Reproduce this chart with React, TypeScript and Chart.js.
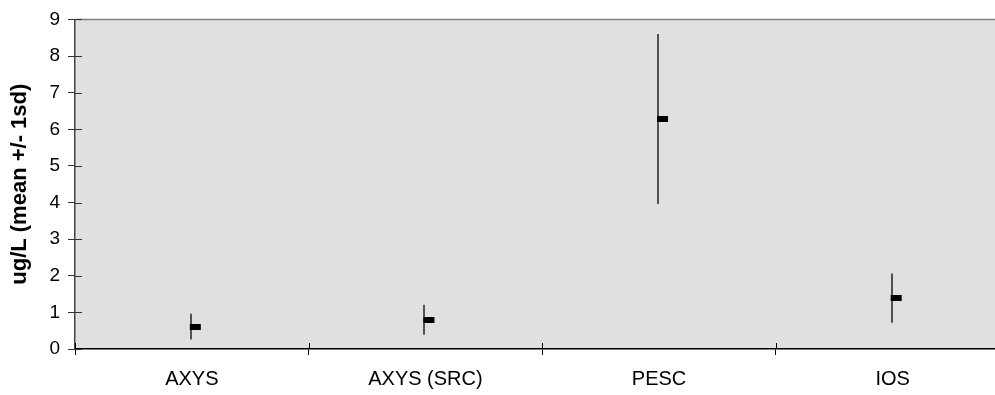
import React, { useEffect, useRef } from "react";
import { Chart, registerables } from "chart.js";

Chart.register(...registerables);

const categories = ["AXYS", "AXYS (SRC)", "PESC", "IOS"];
const means = [0.61, 0.8, 6.28, 1.39];
const sds = [0.35, 0.41, 2.32, 0.67];
const yTicks = [0, 1, 2, 3, 4, 5, 6, 7, 8, 9];
const yTitle = "ug/L (mean +/- 1sd)";

const FONT = "'Liberation Sans', Arial, Helvetica, sans-serif";

function makeMarker(): HTMLCanvasElement {
  const c = document.createElement("canvas");
  c.width = 22;
  c.height = 6;
  const ctx = c.getContext("2d")!;
  ctx.fillStyle = "#000";
  ctx.fillRect(9, 0, 11, 6);
  return c;
}

const bgPlugin = {
  id: "bgPlugin",
  beforeDraw(chart: any) {
    const { ctx, chartArea } = chart;
    ctx.save();
    ctx.fillStyle = "#e0e0e0";
    ctx.fillRect(chartArea.left, chartArea.top, chartArea.right - chartArea.left, chartArea.bottom - chartArea.top);
    ctx.restore();
  },
  afterDraw(chart: any) {
    const { ctx, chartArea, scales } = chart;
    ctx.save();
    ctx.strokeStyle = "#808080";
    ctx.lineWidth = 1.5;
    ctx.beginPath();
    ctx.moveTo(chartArea.left, chartArea.top);
    ctx.lineTo(chartArea.right, chartArea.top);
    ctx.stroke();
    ctx.strokeStyle = "#333";
    ctx.lineWidth = 1;
    const y = scales.y;
    y.ticks.forEach((_t: any, i: number) => {
      const py = Math.round(y.getPixelForTick(i)) + 0.5;
      ctx.beginPath();
      ctx.moveTo(chartArea.left, py);
      ctx.lineTo(chartArea.left + 7, py);
      ctx.stroke();
    });
    const x = scales.x;
    ctx.strokeStyle = "#000";
    for (let i = 0; i <= categories.length; i++) {
      const px = Math.round(x.getPixelForValue(i - 0.5)) + 0.5;
      ctx.beginPath();
      ctx.moveTo(px, chartArea.bottom);
      ctx.lineTo(px, chartArea.bottom - 6);
      ctx.stroke();
    }
    ctx.restore();
  },
};

const errorBarPlugin = {
  id: "errorBarPlugin",
  beforeDatasetsDraw(chart: any) {
    const { ctx, scales } = chart;
    const meta = chart.getDatasetMeta(0);
    ctx.save();
    ctx.strokeStyle = "#222";
    ctx.lineWidth = 1.5;
    meta.data.forEach((pt: any, i: number) => {
      const top = scales.y.getPixelForValue(means[i] + sds[i]);
      const bot = scales.y.getPixelForValue(means[i] - sds[i]);
      const px = Math.round(pt.x) - 1;
      ctx.beginPath();
      ctx.moveTo(px, top);
      ctx.lineTo(px, bot);
      ctx.stroke();
    });
    ctx.restore();
  },
};

export default function App() {
  const ref = useRef<HTMLCanvasElement>(null);

  useEffect(() => {
    if (!ref.current) return;
    const marker = makeMarker();
    const chart = new Chart(ref.current, {
      type: "line",
      data: {
        labels: categories,
        datasets: [
          {
            data: means,
            showLine: false,
            pointStyle: marker as any,
            pointRadius: 5,
            borderColor: "#000",
            backgroundColor: "#000",
          },
        ],
      },
      options: {
        responsive: false,
        animation: false,
        events: [],
        layout: { padding: { left: 0, top: 19, right: 20.5, bottom: 0 } },
        plugins: {
          legend: { display: false },
          tooltip: { enabled: false },
        },
        scales: {
          x: {
            type: "category",
            offset: true,
            grid: {
              offset: true,
              drawOnChartArea: false,
              drawTicks: true,
              tickLength: 6,
              color: "#000",
            },
            border: { color: "#000", width: 1.5 },
            ticks: {
              color: "#000",
              font: { family: FONT, size: 20 },
              padding: 12,
              maxRotation: 0,
              autoSkip: false,
            },
            afterFit: (s: any) => {
              s.height = 46;
            },
          },
          y: {
            min: 0,
            max: 9,
            afterBuildTicks: (s: any) => {
              s.ticks = yTicks.map((v) => ({ value: v }));
            },
            grid: {
              drawOnChartArea: false,
              drawTicks: true,
              tickLength: 7,
              color: "#333",
            },
            border: { color: "#444", width: 1.5 },
            ticks: {
              color: "#000",
              font: { family: FONT, size: 19 },
              padding: 8,
            },
            title: {
              display: true,
              text: yTitle,
              color: "#000",
              font: { family: FONT, size: 22, weight: "bold" },
              padding: { top: 7, bottom: 0 },
            },
            afterFit: (s: any) => {
              s.width = 75;
            },
          },
        },
      },
      plugins: [bgPlugin, errorBarPlugin],
    });
    return () => chart.destroy();
  }, []);

  return (
    <div style={{ position: "fixed", left: 0, top: 0, width: 995, height: 395, overflow: "hidden", background: "#fff" }}>
      <canvas ref={ref} width={1030} height={395} style={{ display: "block" }} />
    </div>
  );
}
